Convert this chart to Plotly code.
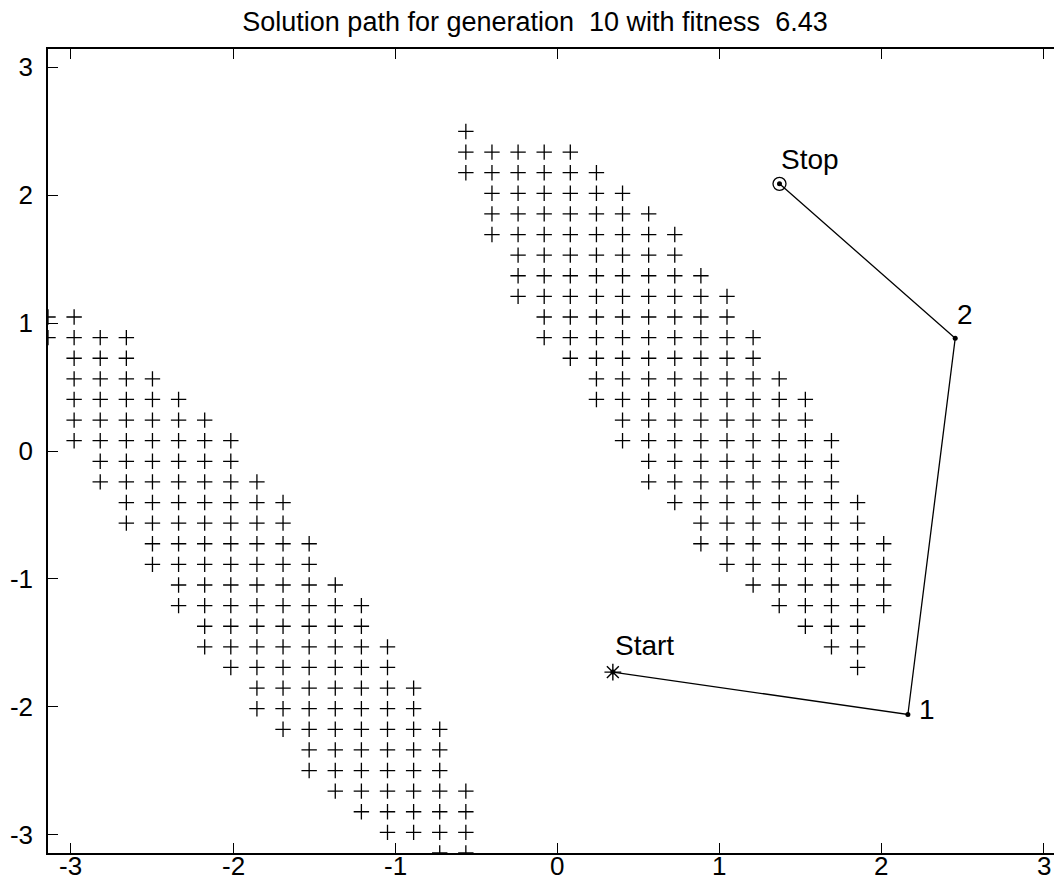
import numpy as np
import plotly.graph_objects as go

# grid used by the obstacle map (40 x 40 points on [-pi, pi])
grid = np.linspace(-np.pi, np.pi, 40)

# lower-left obstacle band: row index, first and last column index
lower_rows = [26, 25, 24, 23, 22, 21, 20, 19, 18, 17, 16, 15, 14, 13,
              12, 11, 10, 9, 8, 7, 6, 5, 4, 3, 2, 1, 0]
lower_first = [0, 0, 1, 1, 1, 1, 1, 2, 2, 3, 3, 4, 4, 5,
               5, 6, 6, 7, 8, 8, 9, 10, 10, 11, 12, 13, 15]
lower_last = [1, 3, 3, 4, 5, 6, 7, 7, 8, 9, 9, 10, 10, 11,
              12, 12, 13, 13, 14, 14, 15, 15, 15, 16, 16, 16, 16]

# upper-right obstacle band
upper_rows = [35, 34, 33, 32, 31, 30, 29, 28, 27, 26, 25, 24, 23, 22,
              21, 20, 19, 18, 17, 16, 15, 14, 13, 12, 11, 10, 9]
upper_first = [16, 16, 16, 17, 17, 17, 18, 18, 18, 19, 19, 20, 21, 21,
               22, 22, 23, 23, 24, 25, 25, 26, 27, 28, 29, 30, 31]
upper_last = [16, 20, 21, 22, 23, 24, 24, 25, 26, 26, 27, 27, 28, 29,
              29, 30, 30, 30, 31, 31, 32, 32, 32, 32, 31, 31, 31]

# solution path
path_x = [0.343, 2.163, 2.455, 1.371]
path_y = [-1.728, -2.059, 0.881, 2.088]
path_labels = ["Start", "1", "2", "Stop"]
label_x = [0.343, 2.218, 2.452, 1.371]
label_y = [-1.52, -2.02, 1.066, 2.281]

tick_vals = [-3, -2, -1, 0, 1, 2, 3]
tick_text = ["-3", "-2", "-1", "0", "1", "2", "3"]

obs_x, obs_y = [], []
for rows, first, last in [(lower_rows, lower_first, lower_last),
                          (upper_rows, upper_first, upper_last)]:
    for j, a, b in zip(rows, first, last):
        for i in range(a, b + 1):
            obs_x.append(grid[i])
            obs_y.append(grid[j])

fig = go.Figure()
fig.add_trace(go.Scatter(
    x=obs_x, y=obs_y, mode="markers",
    marker=dict(symbol="cross-thin", size=11, color="black",
                line=dict(color="black", width=1.3)),
))
fig.add_trace(go.Scatter(x=path_x, y=path_y, mode="lines+markers",
                         line=dict(color="black", width=1.3),
                         marker=dict(symbol="circle", size=5, color="black")))
fig.add_trace(go.Scatter(
    x=path_x[:1], y=path_y[:1], mode="markers",
    marker=dict(symbol="asterisk-open", size=14, color="black",
                line=dict(color="black", width=1.4)),
))
fig.add_trace(go.Scatter(
    x=path_x[-1:], y=path_y[-1:], mode="markers",
    marker=dict(symbol="circle-open", size=13, color="black",
                line=dict(color="black", width=1.3)),
))

for tx, ty, t in zip(label_x, label_y, path_labels):
    fig.add_annotation(x=tx, y=ty, text=t, showarrow=False,
                       xanchor="left", yanchor="middle",
                       font=dict(size=28, color="black"))

# x tick labels sit closer to the axis than plotly puts them
for v, t in zip(tick_vals, tick_text):
    fig.add_annotation(x=v, y=0, xref="x", yref="paper", text=t,
                       showarrow=False, xanchor="center", yanchor="middle",
                       yshift=-13, font=dict(size=26, color="black"))

# the page body adds an 8px margin, so the figure is sized to fill the rest
fig.update_layout(
    width=1054, height=880,
    margin=dict(l=40, r=0, t=41, b=35),
    plot_bgcolor="white", paper_bgcolor="white",
    showlegend=False,
    font=dict(family="Liberation Sans, Arial, sans-serif", color="black"),
    title=dict(text="Solution path for generation \u00a010 with fitness \u00a06.43",
               x=0.5, xanchor="center", y=1 - 4 / 880, yanchor="top",
               pad=dict(t=0, b=0),
               font=dict(size=27, color="black")),
)
fig.update_xaxes(range=[-np.pi, 3.1138], tickvals=tick_vals, showticklabels=False,
                 ticks="inside", ticklen=10, tickwidth=1, tickcolor="black",
                 showline=True, linewidth=1.5, linecolor="black", mirror="ticks",
                 showgrid=False, zeroline=False, automargin=False)
fig.update_yaxes(range=[-np.pi, np.pi], tickvals=tick_vals, ticktext=tick_text,
                 ticks="inside", ticklen=10, tickwidth=1, tickcolor="black",
                 showline=True, linewidth=1.5, linecolor="black",
                 showgrid=False, zeroline=False, tickfont=dict(size=26),
                 automargin=False, ticklabelstandoff=8)

fig.write_html("out.html")
